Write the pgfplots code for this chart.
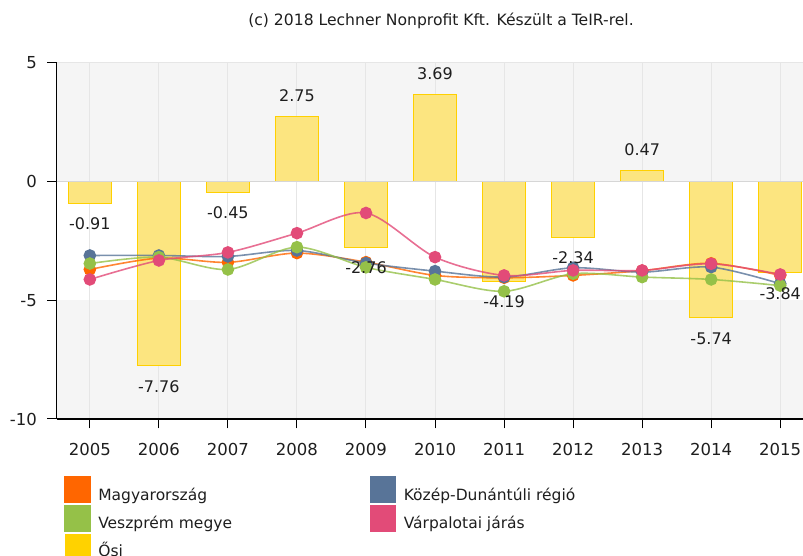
\documentclass[border=0pt]{standalone}
\usepackage{pgfplots}
\pgfplotsset{compat=1.18}
\usepackage{pgfplotstable}
\usepackage{fontspec}
\setmainfont{DejaVu Sans}
\definecolor{cOr}{RGB}{255,102,0}
\definecolor{cBl}{RGB}{88,116,152}
\definecolor{cGr}{RGB}{149,193,72}
\definecolor{cPk}{RGB}{226,75,120}
\definecolor{cGo}{RGB}{255,210,0}
\definecolor{barfill}{RGB}{252,229,128}
\definecolor{baredge}{RGB}{255,208,0}
\definecolor{band}{RGB}{245,245,245}
\definecolor{gridc}{RGB}{230,230,230}
\definecolor{zeroc}{RGB}{214,214,214}
\definecolor{txt}{RGB}{30,30,30}

\pgfplotstableread{
year ma kd ve va osi
0  -3.70 -3.11 -3.45 -4.12 -0.91
1  -3.22 -3.11 -3.18 -3.32 -7.76
2  -3.40 -3.15 -3.70 -2.98 -0.45
3  -3.01 -2.90 -2.76 -2.17 2.75
4  -3.39 -3.43 -3.61 -1.32 -2.76
5  -3.95 -3.77 -4.12 -3.18 3.69
6  -4.05 -4.02 -4.62 -3.95 -4.19
7  -3.95 -3.63 -3.88 -3.74 -2.34
8  -3.75 -3.81 -4.02 -3.74 0.47
9  -3.44 -3.60 -4.12 -3.46 -5.74
10 -3.95 -4.30 -4.38 -3.91 -3.84
}\data

\begin{document}
\begin{tikzpicture}
\useasboundingbox (0pt,0pt) rectangle (803pt,556pt);
% plot-area background bands (axis box: x 56.7..803, y 137..493)
\fill[band] (56.7pt,374.33pt) rectangle (803pt,493pt);
\fill[band] (56.7pt,137pt) rectangle (803pt,255.67pt);
\draw[gridc, line width=1pt] (56.7pt,493pt) -- (803pt,493pt);
\node[font=\fontsize{15.6}{18}\selectfont, text=txt, anchor=base, inner sep=0pt] at (441pt,530pt) {(c) 2018 Lechner Nonprofit Kft. Készült a TeIR-rel.};
\begin{axis}[
  at={(56.7pt,137pt)}, anchor=south west,
  scale only axis, width=746.3pt, height=356pt,
  xmin=-0.48, xmax=10.33, ymin=-10, ymax=5,
  xtick={0,1,2,3,4,5,6,7,8,9,10},
  xticklabels={2005,2006,2007,2008,2009,2010,2011,2012,2013,2014,2015},
  ytick={-10,-5,0,5},
  yticklabels={-10,-5,0,5},
  axis x line*=bottom, axis y line*=left,
  x axis line style={-, black, line width=2pt},
  y axis line style={-, black, line width=1.5pt},
  tick align=outside, major tick length=9.5pt,
  every tick/.style={black, line width=1pt},
  xmajorgrids, ymajorgrids=false,
  major grid style={gridc, line width=1pt},
  tick label style={font=\fontsize{16.5}{19}\selectfont, text=txt, inner sep=0pt},
  xticklabel style={anchor=north, yshift=-14.2pt},
  yticklabel style={anchor=east, xshift=-10.2pt},
  legend columns=2,
  legend style={at={(0.0102,-0.1610)}, anchor=north west, draw=none, fill=none,
    inner sep=0pt, outer sep=0pt, font=\fontsize{15.5}{18}\selectfont,
    text=txt, column sep=7.4pt, row sep=2pt,
    nodes={inner sep=0pt, text height=12pt, text depth=2pt},
    /tikz/column 2/.style={column sep=137.7pt}},
  legend cell align=left,
]
\addplot[ybar, bar width=43.4pt, fill=barfill, draw=baredge, line width=1pt, forget plot]
  table[x=year, y=osi]{\data};
\draw[zeroc, line width=1.5pt] (axis cs:-0.48,0) -- (axis cs:10.33,0);

\addplot[cOr, line width=1.6pt, draw opacity=0.8, smooth, tension=0.5,
  mark=*, mark size=5.5pt, mark options={draw=none, fill=cOr, opacity=1},
  legend image code/.code={\fill[cOr, opacity=1] (0pt,-7pt) rectangle (25pt,18pt);}]
  table[x=year, y=ma]{\data};
\addlegendentry{Magyarország}
\addplot[cBl, line width=1.6pt, draw opacity=0.8, smooth, tension=0.5,
  mark=*, mark size=5.5pt, mark options={draw=none, fill=cBl, opacity=1},
  legend image code/.code={\fill[cBl, opacity=1] (0pt,-7pt) rectangle (25pt,18pt);}]
  table[x=year, y=kd]{\data};
\addlegendentry{Közép-Dunántúli régió}
\addplot[cGr, line width=1.6pt, draw opacity=0.8, smooth, tension=0.5,
  mark=*, mark size=5.5pt, mark options={draw=none, fill=cGr, opacity=1},
  legend image code/.code={\fill[cGr, opacity=1] (0pt,-7pt) rectangle (25pt,18pt);}]
  table[x=year, y=ve]{\data};
\addlegendentry{Veszprém megye}
\addplot[cPk, line width=1.6pt, draw opacity=0.8, smooth, tension=0.5,
  mark=*, mark size=5.5pt, mark options={draw=none, fill=cPk, opacity=1},
  legend image code/.code={\fill[cPk, opacity=1] (0pt,-7pt) rectangle (25pt,18pt);}]
  table[x=year, y=va]{\data};
\addlegendentry{Várpalotai járás}
\addlegendimage{legend image code/.code={\fill[cGo] (0pt,-7pt) rectangle (25pt,18pt);}}
\addlegendentry{Ősi}

\addplot[ybar, bar width=43.4pt, draw=none, fill=none, forget plot,
  nodes near coords={\pgfmathprintnumber[fixed, fixed zerofill, precision=2, assume math mode=true]{\pgfplotspointmeta}},
  nodes near coords align=vertical,
  every node near coord/.append style={font=\fontsize{16}{19}\selectfont, text=txt, inner sep=14.5pt}]
  table[x=year, y=osi]{\data};
\end{axis}
\end{tikzpicture}
\end{document}
